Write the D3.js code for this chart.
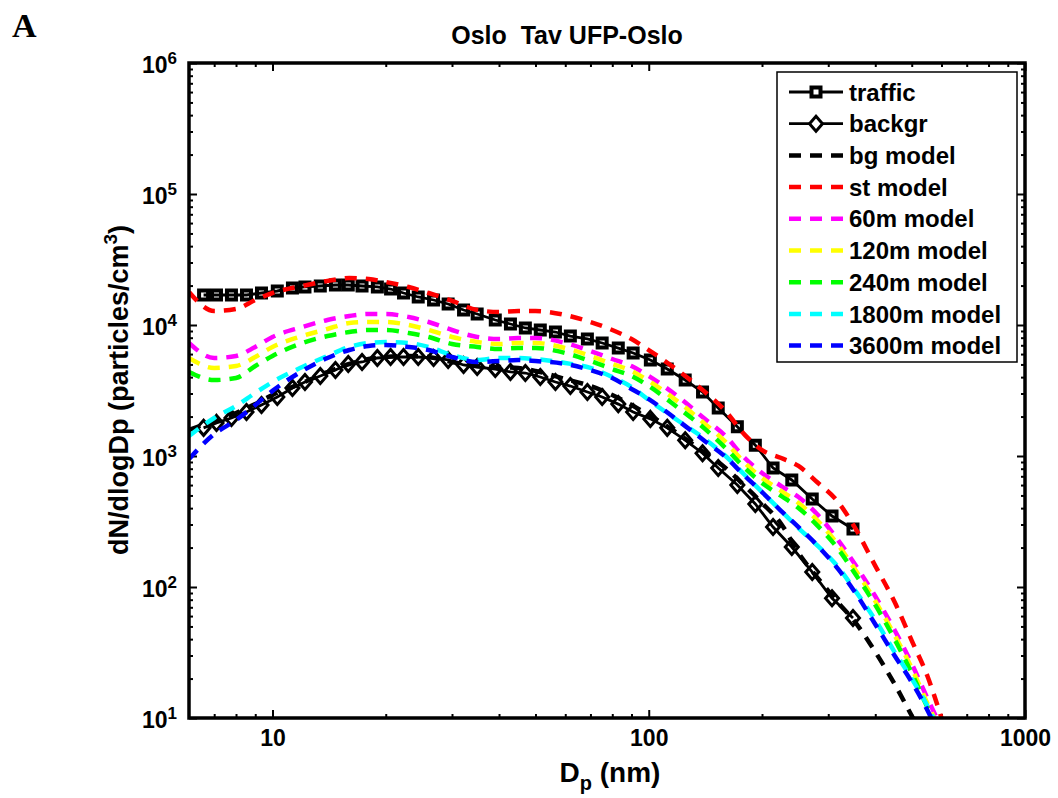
<!DOCTYPE html>
<html>
<head>
<meta charset="utf-8">
<script src="https://cdn.jsdelivr.net/npm/d3@7"></script>
<style>
  body { margin: 0; background: #fff; }
  svg { font-family: "Liberation Sans", Arial, sans-serif; }
</style>
</head>
<body>
<svg id="chart" width="1058" height="798"></svg>
<script>
// measured size distributions (channel diameters, nm)
const channelDp = [6.56, 7.10, 7.78, 8.53, 9.35, 10.3, 11.3, 12.2, 13.4, 14.7, 15.9, 17.3, 19.0, 20.6,
  22.3, 24.4, 26.8, 29.3, 32.2, 35.0, 39.1, 42.9, 47.0, 51.5, 56.5, 61.9, 68.7, 75.2, 83.0, 90.9,
  101, 112, 125, 139, 153, 172, 192, 214, 240, 272, 307, 349];
const trafficN = [16940, 16940, 16940, 16940, 17550, 18180, 19170, 19510, 19850, 20200, 20200, 19850,
  19510, 18830, 17550, 16360, 15520, 14470, 13020, 12130, 10920, 10180, 9490, 9160, 8840, 8240, 7820,
  7290, 6670, 6110, 5410, 4610, 3800, 3080, 2320, 1670, 1210, 810, 656, 470, 348, 277];
const backgrN = [1640, 1790, 1950, 2170, 2450, 2820, 3300, 3670, 4080, 4530, 5040, 5220, 5600, 5700,
  5700, 5700, 5600, 5410, 4950, 4780, 4610, 4380, 4300, 4010, 3670, 3420, 3080, 2820, 2490, 2170,
  1920, 1640, 1320, 1050, 810, 600, 430, 287, 202, 130, 82, 58];

// model curves on a common diameter grid (nm)
const modelDp = [6, 7, 8, 9, 10, 12, 14, 16, 18, 20, 23, 26, 30, 35, 40, 45, 50, 60, 70, 80, 90, 100,
  120, 140, 160, 180, 200, 225, 250, 280, 320, 350, 400, 450, 500, 550, 600];
const bgModelN = [1580, 1850, 2130, 2490, 2920, 3610, 4380, 5040, 5500, 5700, 5800, 5700, 5220, 4860,
  4780, 4700, 4460, 3870, 3420, 2920, 2450, 2060, 1470, 1070, 810, 590, 438, 303, 182, 119, 75, 56,
  32, 18.2, 10.4, 6.2, 4];
const stModelN = [17860, 12790, 13250, 15520, 17550, 19850, 21670, 22850, 22450, 21290, 19510, 17550,
  15300, 13020, 12570, 12790, 12790, 11920, 10540, 9160, 7820, 6440, 4460, 3140, 2200, 1450, 1110,
  965, 839, 633, 438, 297, 145, 77, 39, 21, 10];
const m60N = [7290, 5600, 5800, 6800, 8100, 9650, 10920, 11720, 12130, 12130, 11510, 10540, 9160, 8100,
  7820, 7960, 7960, 7290, 6330, 5500, 4860, 4080, 2820, 1950, 1420, 965, 742, 590, 486, 361, 224, 155,
  85, 47, 26, 14.2, 8.4];
const m120N = [5600, 4700, 4860, 5700, 6800, 8240, 9320, 10360, 10540, 10540, 10000, 9160, 8100, 7420,
  7160, 7290, 7290, 6670, 5800, 5040, 4460, 3740, 2580, 1790, 1280, 884, 680, 540, 438, 325, 206, 142,
  78, 43, 24, 13.0, 7.6];
const m240N = [4380, 3800, 3940, 4860, 5800, 7290, 8240, 8840, 9160, 9160, 8690, 8100, 7160, 6800, 6560,
  6670, 6670, 6110, 5310, 4610, 4080, 3420, 2320, 1640, 1150, 810, 622, 495, 401, 297, 192, 132, 73,
  40, 22, 12.1, 7.2];
const m1800N = [1420, 1950, 2410, 3030, 3670, 4780, 5800, 6800, 7290, 7420, 7290, 6800, 5900, 5410,
  5600, 5600, 5500, 5130, 4700, 4010, 3360, 2680, 1850, 1370, 1000, 716, 531, 380, 282, 209, 140, 98,
  56, 32, 20, 12.4, 7.4];
const m3600N = [949, 1470, 1880, 2450, 3140, 4460, 5600, 6440, 6910, 7040, 6800, 6440, 5700, 5220,
  5310, 5410, 5310, 5040, 4530, 3940, 3250, 2720, 1850, 1320, 983, 704, 531, 380, 287, 209, 135, 95,
  52, 30, 18.8, 11.5, 6.8];

// tick values
const xMajor = [10, 100, 1000];
const yMajor = [1e1, 1e2, 1e3, 1e4, 1e5, 1e6];

// series table, in plotting order (last one on top)
const measured = [
  { name: "traffic", dp: channelDp, n: trafficN, marker: "square" },
  { name: "backgr", dp: channelDp, n: backgrN, marker: "diamond" }
];
const models = [
  { name: "bg model", n: bgModelN, color: "#000000" },
  { name: "st model", n: stModelN, color: "#ff0000" },
  { name: "60m model", n: m60N, color: "#ff00ff" },
  { name: "120m model", n: m120N, color: "#ffff00" },
  { name: "240m model", n: m240N, color: "#00ff00" },
  { name: "1800m model", n: m1800N, color: "#00ffff" },
  { name: "3600m model", n: m3600N, color: "#0000ff" }
];

const svg = d3.select("#chart");
const plot = { left: 189, right: 1025, top: 63, bottom: 718 };

const x = d3.scaleLog().domain([6, 1000]).range([plot.left, plot.right]);
const y = d3.scaleLog().domain([10, 1e6]).range([plot.bottom, plot.top]);

// minor ticks of the log axes (2..9 of each decade inside the domain)
const minorOf = (scale) => {
  const [a, b] = scale.domain();
  const out = [];
  for (let e = Math.floor(Math.log10(a)); e < Math.ceil(Math.log10(b)); e++) {
    for (let m = 2; m <= 9; m++) {
      const v = m * Math.pow(10, e);
      if (v > a && v < b) out.push(v);
    }
  }
  return out;
};

// clip lines to the axes box
svg.append("defs").append("clipPath").attr("id", "plotClip")
  .append("rect")
  .attr("x", plot.left).attr("y", plot.top)
  .attr("width", plot.right - plot.left).attr("height", plot.bottom - plot.top);

// Axes: ticks point inwards on all four sides (matlab box style)
const addAxis = (axis, tx, ty, values, size, withLabels) => {
  const g = svg.append("g")
    .attr("transform", `translate(${tx},${ty})`)
    .call(axis.tickValues(values).tickSize(-size).tickPadding(12)
      .tickFormat(withLabels ? d3.format("d") : ""));
  g.select(".domain").remove();
  g.selectAll(".tick line").attr("stroke", "#000").attr("stroke-width", 2);
  return g;
};

addAxis(d3.axisBottom(x), 0, plot.bottom, minorOf(x), 4, false);
addAxis(d3.axisTop(x), 0, plot.top, minorOf(x), 4, false);
addAxis(d3.axisLeft(y), plot.left, 0, minorOf(y), 4, false);
addAxis(d3.axisRight(y), plot.right, 0, minorOf(y), 4, false);
addAxis(d3.axisTop(x), 0, plot.top, xMajor, 8, false);
addAxis(d3.axisRight(y), plot.right, 0, yMajor, 8, false);

const xAxis = addAxis(d3.axisBottom(x), 0, plot.bottom, xMajor, 8, true);
xAxis.selectAll("text")
  .attr("font-size", 23).attr("font-weight", "bold").attr("fill", "#000");

const yAxis = addAxis(d3.axisLeft(y), plot.left, 0, yMajor, 8, true);
yAxis.selectAll("text")
  .attr("font-size", 23).attr("font-weight", "bold").attr("fill", "#000")
  .attr("dy", "0.42em")
  .each(function(d) {
    const t = d3.select(this).text("10");
    t.append("tspan").attr("dy", "-0.55em").attr("font-size", 17).text(Math.round(Math.log10(d)));
  });

// model lines (dashed)
const modelLine = d3.line()
  .x((d, i) => x(modelDp[i]))
  .y(d => y(d))
  .curve(d3.curveMonotoneX);

// measured lines
const measLine = d3.line()
  .x(d => x(d[0]))
  .y(d => y(d[1]));

const lines = svg.append("g").attr("clip-path", "url(#plotClip)");

const diamondPath = "M0,-7.5L6.5,0L0,7.5L-6.5,0Z";
const squarePath = "M-4.5,-4.5H4.5V4.5H-4.5Z";

measured.forEach(s => {
  const pts = s.dp.map((d, i) => [d, s.n[i]]);
  lines.append("path")
    .attr("d", measLine(pts))
    .attr("fill", "none")
    .attr("stroke", "#000")
    .attr("stroke-width", 2.8);
  lines.selectAll(null)
    .data(pts)
    .enter()
    .append("path")
    .attr("transform", d => `translate(${x(d[0])},${y(d[1])})`)
    .attr("d", s.marker === "square" ? squarePath : diamondPath)
    .attr("fill", "none")
    .attr("stroke", "#000")
    .attr("stroke-width", s.marker === "square" ? 4 : 3);
});

models.forEach(m => {
  lines.append("path")
    .attr("d", modelLine(m.n))
    .attr("fill", "none")
    .attr("stroke", m.color)
    .attr("stroke-width", 4.5)
    .attr("stroke-dasharray", "12,9");
});

// axes box
svg.append("rect")
  .attr("x", plot.left).attr("y", plot.top)
  .attr("width", plot.right - plot.left).attr("height", plot.bottom - plot.top)
  .attr("fill", "none").attr("stroke", "#000").attr("stroke-width", 3.5);

// Legend
const legend = svg.append("g").attr("transform", "translate(777,72)");
legend.append("rect")
  .attr("width", 240).attr("height", 290)
  .attr("fill", "#fff").attr("stroke", "#000").attr("stroke-width", 1.5);

const legendItems = measured.map(s => ({ name: s.name, marker: s.marker, color: "#000", dash: null }))
  .concat(models.map(m => ({ name: m.name, marker: null, color: m.color, dash: "12,9" })));

legendItems.forEach((item, i) => {
  const row = legend.append("g").attr("transform", `translate(0,${20 + i * 31.7})`);
  row.append("line")
    .attr("x1", 12).attr("x2", 66)
    .attr("stroke", item.color)
    .attr("stroke-width", item.dash ? 4.5 : 2.8)
    .attr("stroke-dasharray", item.dash);
  if (item.marker) {
    row.append("path")
      .attr("transform", "translate(39,0)")
      .attr("d", item.marker === "square" ? squarePath : diamondPath)
      .attr("fill", "#fff")
      .attr("stroke", "#000")
      .attr("stroke-width", item.marker === "square" ? 4 : 3);
  }
  row.append("text")
    .attr("x", 72).attr("dy", "0.36em")
    .attr("font-size", 24).attr("font-weight", "bold")
    .text(item.name);
});

// Titles
svg.append("text")
  .attr("x", 567).attr("y", 44)
  .attr("text-anchor", "middle")
  .attr("font-size", 25).attr("font-weight", "bold")
  .text("Oslo  Tav UFP-Oslo")
  .attr("xml:space", "preserve")
  .style("white-space", "pre");

const xLabel = svg.append("text")
  .attr("x", 610).attr("y", 782)
  .attr("text-anchor", "middle")
  .attr("font-size", 28).attr("font-weight", "bold");
xLabel.append("tspan").text("D");
xLabel.append("tspan").attr("dy", 8).attr("font-size", 20).text("p");
xLabel.append("tspan").attr("dy", -8).text(" (nm)");

const yLabel = svg.append("text")
  .attr("transform", "translate(128,390) rotate(-90)")
  .attr("text-anchor", "middle")
  .attr("font-size", 27).attr("font-weight", "bold");
yLabel.append("tspan").text("dN/dlogDp (particles/cm");
yLabel.append("tspan").attr("dy", -11).attr("font-size", 19).text("3");
yLabel.append("tspan").attr("dy", 11).text(")");

// panel letter
svg.append("text")
  .attr("x", 12).attr("y", 37)
  .attr("font-family", "'Liberation Serif', 'Times New Roman', serif")
  .attr("font-size", 34).attr("font-weight", "bold")
  .text("A");
</script>
</body>
</html>
